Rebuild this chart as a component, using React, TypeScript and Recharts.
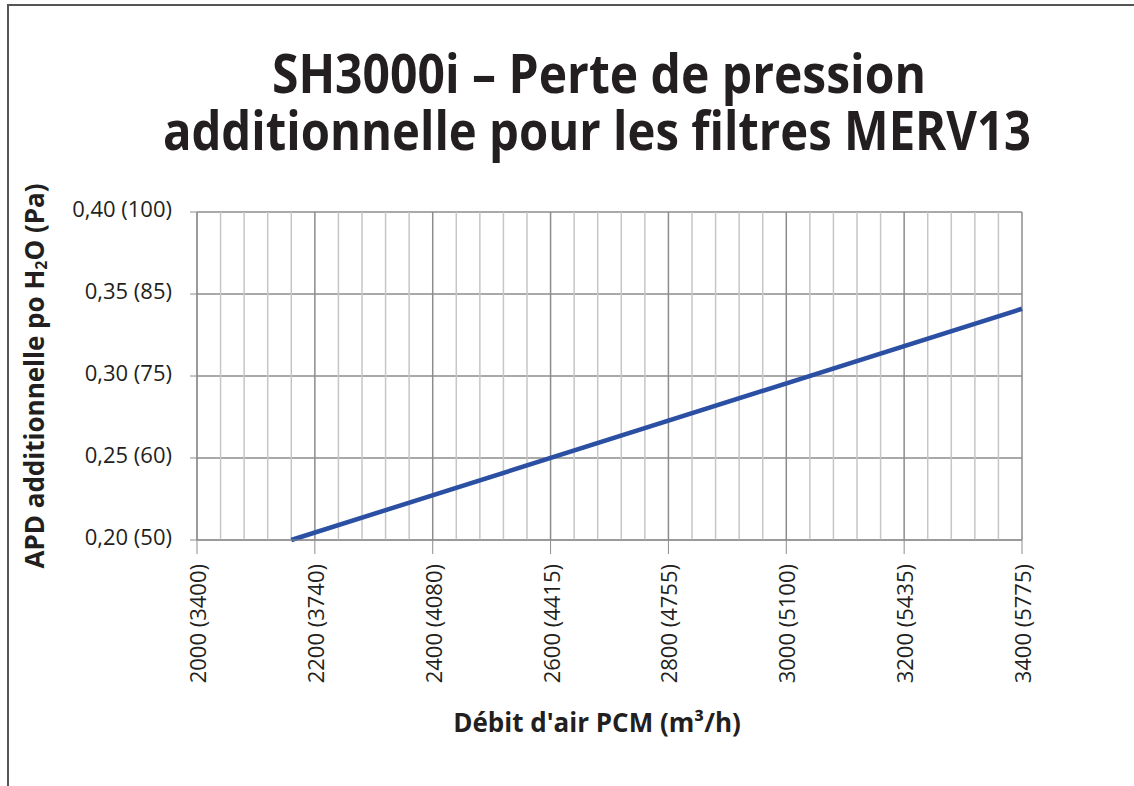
import React from 'react';
import {
  LineChart,
  Line,
  XAxis,
  YAxis,
  CartesianGrid,
  ReferenceLine,
  Label,
} from 'recharts';

// Axis ticks (CFM with m3/h in brackets, in. H2O with Pa in brackets)
const xTicks = [2000, 2200, 2400, 2600, 2800, 3000, 3200, 3400];
const xTickLabels = [
  '2000 (3400)',
  '2200 (3740)',
  '2400 (4080)',
  '2600 (4415)',
  '2800 (4755)',
  '3000 (5100)',
  '3200 (5435)',
  '3400 (5775)',
];
const yTicks = [0.2, 0.25, 0.3, 0.35, 0.4];
const yTickLabels = ['0,20 (50)', '0,25 (60)', '0,30 (75)', '0,35 (85)', '0,40 (100)'];

// Series: additional pressure drop vs airflow
const airflowCfm = [2160, 3400];
const pressureDrop = [0.2, 0.341];

const data = airflowCfm.map((flow, i) => ({ flow, apd: pressureDrop[i] }));

// minor vertical gridlines every 40 CFM between the major ticks
const minorX: number[] = [];
for (let i = 0; i < xTicks.length - 1; i++) {
  for (let k = 1; k < 5; k++) minorX.push(xTicks[i] + k * 40);
}

const FONT = "'Open Sans', sans-serif";
const INK = '#231f20';

const XTick = (props: any) => {
  const { x, y, payload } = props;
  const idx = xTicks.indexOf(payload.value);
  return (
    <text
      x={x}
      y={y}
      transform={`rotate(-90, ${x}, ${y})`}
      textAnchor="end"
      dominantBaseline="central"
      fontFamily={FONT}
      fontSize={22}
      fill={INK}
    >
      {xTickLabels[idx]}
    </text>
  );
};

const YTick = (props: any) => {
  const { x, y, payload } = props;
  const idx = yTicks.findIndex((t) => Math.abs(t - payload.value) < 1e-6);
  return (
    <text
      x={x}
      y={y - 4}
      textAnchor="end"
      dominantBaseline="central"
      fontFamily={FONT}
      fontSize={22}
      fill={INK}
    >
      {yTickLabels[idx]}
    </text>
  );
};

const YTitle = (props: any) => {
  const { viewBox } = props;
  const cx = 34;
  const cy = viewBox.y + viewBox.height / 2;
  return (
    <text
      x={cx}
      y={cy}
      transform={`rotate(-90, ${cx}, ${cy})`}
      textAnchor="middle"
      dominantBaseline="central"
      fontFamily={FONT}
      fontWeight={700}
      fontSize={26}
      fill={INK}
    >
      APD additionnelle po H
      <tspan fontSize={16} dy={7}>
        2
      </tspan>
      <tspan dy={-7}>O (Pa)</tspan>
    </text>
  );
};

const XTitle = () => (
  <text
    x={597}
    y={732}
    textAnchor="middle"
    fontFamily={FONT}
    fontWeight={700}
    fontSize={26}
    fill={INK}
  >
    Débit d'air PCM (m³/h)
  </text>
);

const titleLine: React.CSSProperties = {
  position: 'absolute',
  left: 0,
  textAlign: 'center',
  fontFamily: FONT,
  fontWeight: 700,
  fontSize: 53,
  lineHeight: '57px',
  height: 57,
  color: INK,
  whiteSpace: 'nowrap',
  transformOrigin: 'center center',
};

export default function App() {
  return (
    <div style={{ position: 'absolute', left: 0, top: 0, width: 1134, height: 786, background: '#fff', overflow: 'hidden' }}>
      {/* frame (top + left edges only) */}
      <div
        style={{
          position: 'absolute',
          left: 7,
          top: 4,
          width: 1127,
          height: 782,
          borderTop: '2px solid #555',
          borderLeft: '2px solid #555',
          boxSizing: 'border-box',
        }}
      />
      <LineChart
        width={1134}
        height={786}
        data={data}
        margin={{ top: 212, right: 112, bottom: 186, left: 137 }}
        style={{ position: 'absolute', left: 0, top: 0 }}
      >
        {minorX.map((v) => (
          <ReferenceLine key={v} x={v} stroke="#c6c6c6" strokeWidth={1.5} />
        ))}
        <CartesianGrid stroke="#8c8c8c" strokeWidth={1.5} />
        <XAxis
          dataKey="flow"
          type="number"
          domain={[2000, 3400]}
          ticks={xTicks}
          height={60}
          interval={0}
          tickSize={14}
          tickMargin={10}
          stroke="#8c8c8c"
          tick={<XTick />}
        >
          <Label content={<XTitle />} />
        </XAxis>
        <YAxis
          type="number"
          domain={[0.2, 0.4]}
          ticks={yTicks}
          width={60}
          interval={0}
          tickSize={7}
          tickMargin={18}
          stroke="#8c8c8c"
          tick={<YTick />}
        >
          <Label content={<YTitle />} />
        </YAxis>
        <Line
          type="linear"
          dataKey="apd"
          stroke="#2a4fa3"
          strokeWidth={4.5}
          dot={false}
          activeDot={false}
          isAnimationActive={false}
        />
      </LineChart>
      {/* title, two lines, narrowed to the reference's condensed face */}
      <div style={{ ...titleLine, top: 44, width: 1198, transform: 'scaleX(0.906)' }}>
        SH3000i – Perte de pression
      </div>
      <div style={{ ...titleLine, top: 101, width: 1194, transform: 'scaleX(0.892)' }}>
        additionnelle pour les filtres MERV13
      </div>
    </div>
  );
}
